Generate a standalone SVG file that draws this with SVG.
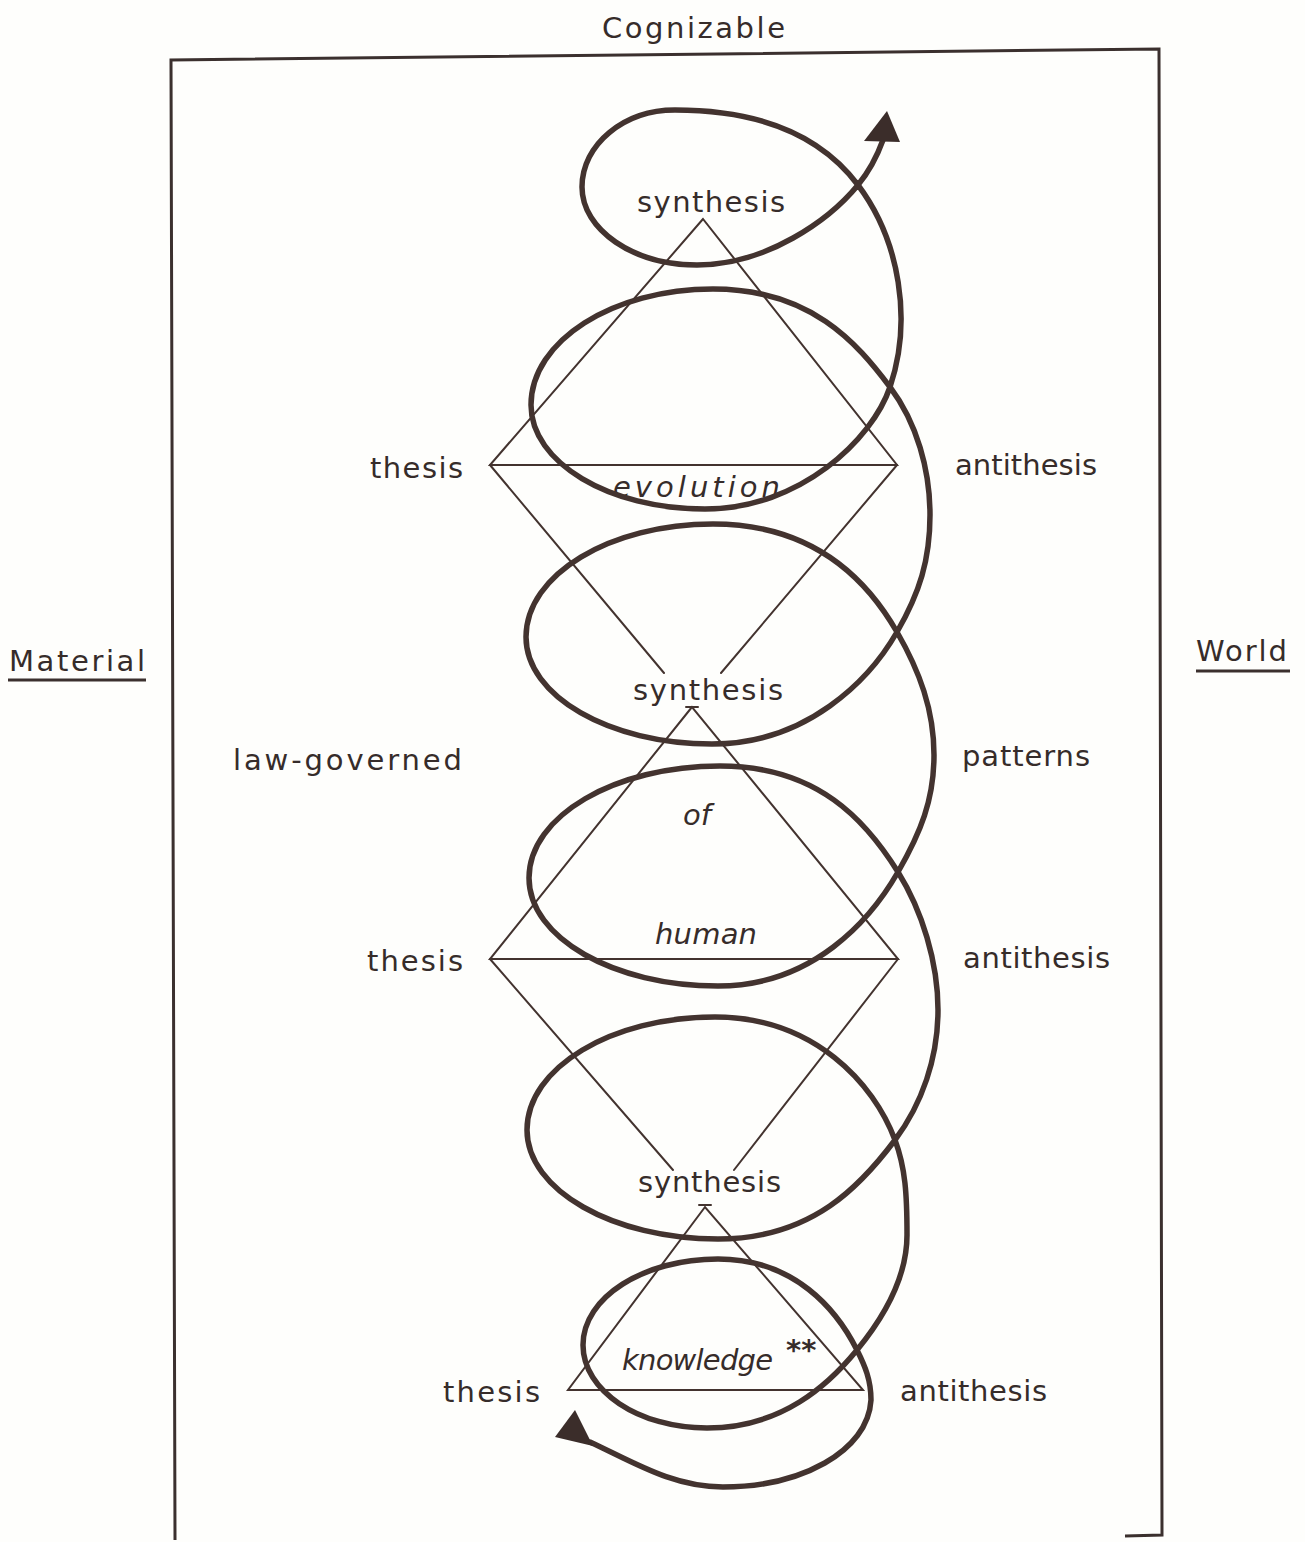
<svg xmlns="http://www.w3.org/2000/svg" width="1305" height="1542" viewBox="0 0 1305 1542">
<style>
.t{font-family:"DejaVu Sans","Liberation Sans",Arial,sans-serif;font-size:29px;fill:#362c2a;}
.i{font-style:italic;}
.thin{fill:none;stroke:#43332f;stroke-width:2;stroke-linecap:round;}
.frame{fill:none;stroke:#3b302e;stroke-width:3;}
.coil{fill:none;stroke:#43332f;stroke-width:5.5;stroke-linecap:round;stroke-linejoin:round;}
.head{fill:#3b2d2a;}
</style>
<rect width="1305" height="1542" fill="#fefefc"/>
<g id="frame">
<path class="frame" d="M175,1540 L171,60 L1159,49 L1162,1535 L1125,1536"/>
</g>
<g id="outer-labels">
<text class="t" x="602" y="38" font-size="31" textLength="183" lengthAdjust="spacing">Cognizable</text>
<text class="t" x="9" y="671" font-size="30" textLength="136" lengthAdjust="spacing">Material</text>
<line x1="8" y1="680" x2="146" y2="680" stroke="#3b302e" stroke-width="3"/>
<text class="t" x="1196" y="661" font-size="30" textLength="91" lengthAdjust="spacing">World</text>
<line x1="1196" y1="671" x2="1290" y2="671" stroke="#3b302e" stroke-width="3"/>
</g>
<g id="triangles">
<path class="thin" d="M703,219 L490,465 L897,465 Z"/>
<path class="thin" d="M490,465 L664,673 M897,465 L721,673"/>
<path class="thin" d="M692,707 L490,959 L898,959 Z"/>
<path class="thin" d="M686,707 L698,707"/>
<path class="thin" d="M490,959 L673,1170 M898,959 L734,1170"/>
<path class="thin" d="M705,1207 L568,1390 L863,1390 Z"/>
<path class="thin" d="M699,1205 L711,1205"/>
</g>
<g id="node-labels">
<text class="t" x="637" y="212" textLength="148" lengthAdjust="spacing">synthesis</text>
<text class="t" x="370" y="478" textLength="93" lengthAdjust="spacing">thesis</text>
<text class="t" x="955" y="475" textLength="142" lengthAdjust="spacing">antithesis</text>
<text class="t" x="633" y="700" textLength="150" lengthAdjust="spacing">synthesis</text>
<text class="t" x="233" y="770" textLength="229" lengthAdjust="spacing">law-governed</text>
<text class="t" x="962" y="766" textLength="128" lengthAdjust="spacing">patterns</text>
<text class="t" x="367" y="971" textLength="96" lengthAdjust="spacing">thesis</text>
<text class="t" x="963" y="968" textLength="147" lengthAdjust="spacing">antithesis</text>
<text class="t" x="638" y="1192" textLength="143" lengthAdjust="spacing">synthesis</text>
<text class="t" x="443" y="1402" textLength="97" lengthAdjust="spacing">thesis</text>
<text class="t" x="900" y="1401" textLength="147" lengthAdjust="spacing">antithesis</text>
<text class="t i" x="613" y="497" textLength="167" lengthAdjust="spacing">evolution</text>
<text class="t i" x="683" y="825">of</text>
<text class="t i" x="655" y="944" textLength="102" lengthAdjust="spacing">human</text>
<text class="t i" x="622" y="1370" textLength="151" lengthAdjust="spacing">knowledge</text>
<text class="t" x="786" y="1360" font-size="28" font-weight="bold">**</text>
</g>
<g id="connectors">
<path class="coil" d="M590,1442 C635,1463 673,1487 723,1487 C800,1487 868,1452 871,1400 C871,1380 865,1366 857,1350
C836.8,1310 795,1259 718,1259 C643.5,1259 583,1297.5 583,1345 C583,1390.8 638.5,1428 707,1428 C782,1428 828.6,1384.7 857,1350
C885.4,1315.4 907,1275 907,1235 C907,1195 905.5,1168 895,1140
C874,1083.6 814,1017 715,1017 C611,1017 527,1068 527,1130 C527,1190 613,1239 718,1239 C813,1239 862,1184 895,1140
C922,1104 938,1058 938,1010 C938,962 921.9,910.3 898,872
C866.2,821 818,766 720,766 C615,766 529,816 529,878 C529,938 614,986 718,986 C813,986 870.5,919.9 898,872
C920.5,832.9 934,800 934,755 C934,710 919.5,671 897,632
C867,579.8 814.6,524 713,524 C610,524 526,574.6 526,637 C526,696 609.3,744 712,744 C807,744 869.5,679.9 897,632
C919.5,592.9 930,560 930,515 C930,470 917,423 890,387
C857,343 810.7,289 713,289 C612.5,289 531,341 531,405 C531,462.4 609,509 705,509 C800,509 872.4,439.3 890,387
C912.4,320.5 900,241 858,185
C828,145 776,110 675,110 C623.7,110 582,144.5 582,187 C582,230 633.5,265 697,265 C767,265 829.6,219.7 858,185
C870.6,169.6 879,151 883,140"/>
<polygon class="head" points="887,111 864,141 900,142"/>
<polygon class="head" points="575,1410 555,1437 593,1446"/>
</g>
</svg>
